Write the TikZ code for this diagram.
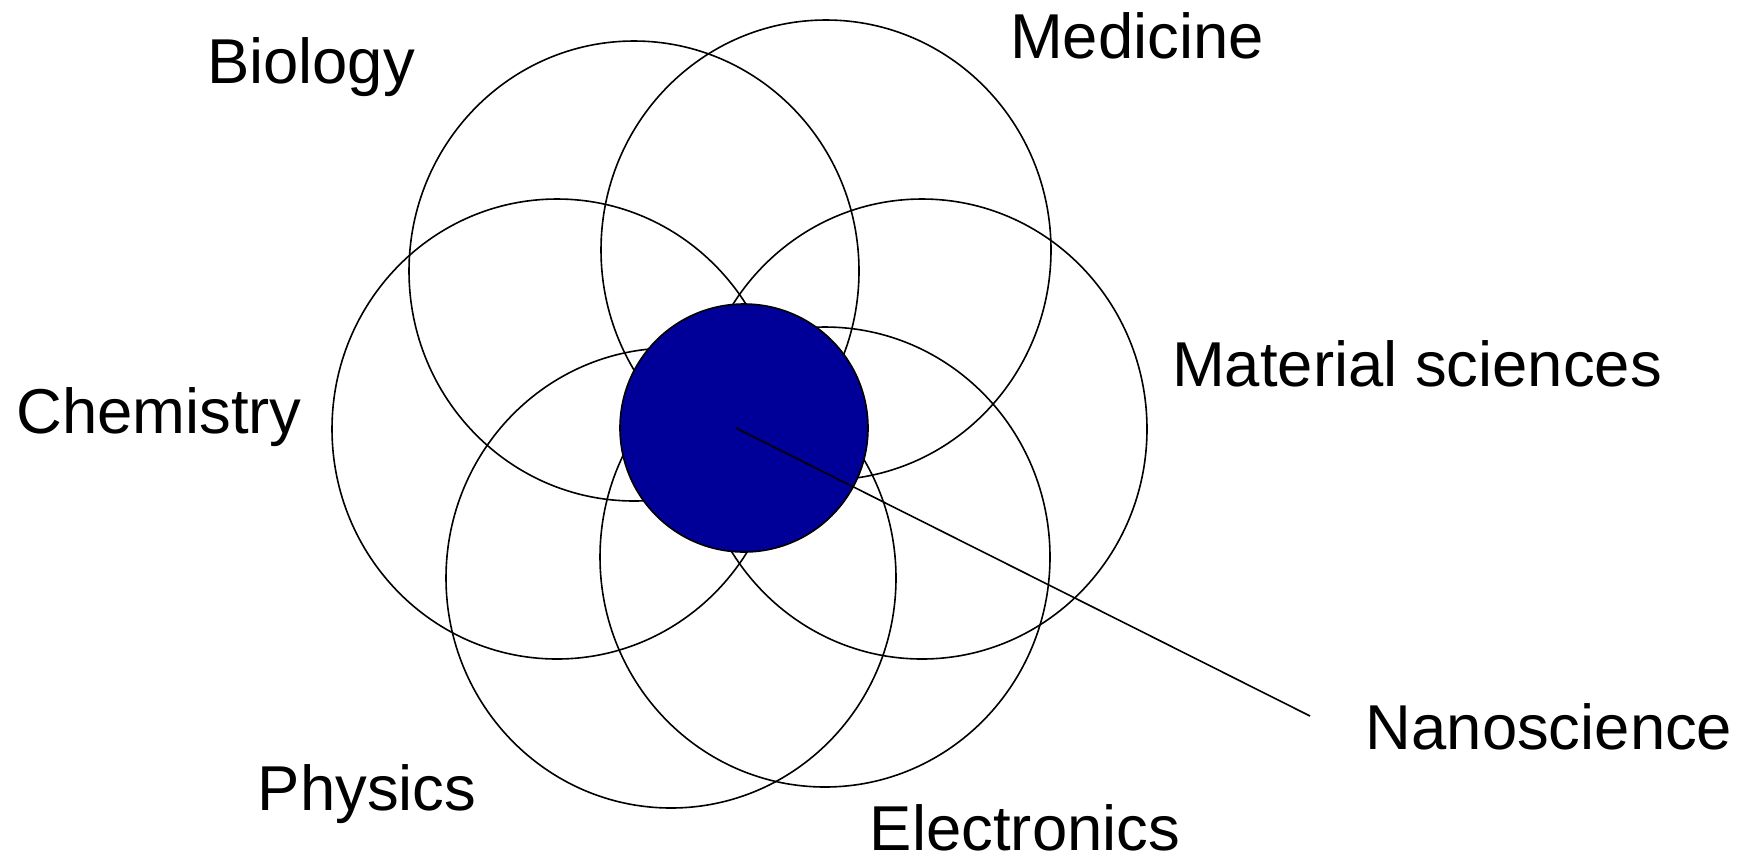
\documentclass[tikz,border=0pt]{standalone}
\usepackage{fontspec}
\setmainfont{Liberation Sans}
\usetikzlibrary{shapes.geometric}
\definecolor{nanoblue}{RGB}{0,0,153}
\tikzset{
  field/.style={
    ellipse,
    draw=black,
    line width=0.8pt,
    inner sep=0pt,
    minimum width=225pt,
    minimum height=230pt
  },
  core/.style={
    circle,
    draw=black,
    fill=nanoblue,
    line width=0.8pt,
    inner sep=0pt,
    minimum size=124pt
  },
  subject/.style={anchor=base,inner sep=0pt,font=\fontsize{31.7}{38}\selectfont},
  leader/.style={draw=black,line width=0.8pt}
}
\begin{document}
\begin{tikzpicture}[x=0.5pt,y=-0.5pt]
\useasboundingbox (0,0) rectangle (1751,864);
\node[field] (biology) at (634,271) {};
\node[field] (medicine) at (826,250) {};
\node[field] (chemistry) at (557,429) {};
\node[field] (materials) at (922,429) {};
\node[field] (physics) at (671,578) {};
\node[field] (electronics) at (825,557) {};
\node[core] (nano) at (744,428) {};
\coordinate (nanoend) at (1310,716);
\draw[leader] ([xshift=-4pt]nano.center) -- (nanoend);
\node[subject] (lbio) at (311,83) {Biology};
\node[subject] (lmed) at (1137,58) {Medicine};
\node[subject] (lmat) at (1417,386) {Material sciences};
\node[subject] (lchem) at (159,433) {Chemistry};
\node[subject] (lphys) at (367,810) {Physics};
\node[subject] (lelec) at (1025,850) {Electronics};
\node[subject] (lnano) at (1549,749) {Nanoscience};
\end{tikzpicture}
\end{document}
